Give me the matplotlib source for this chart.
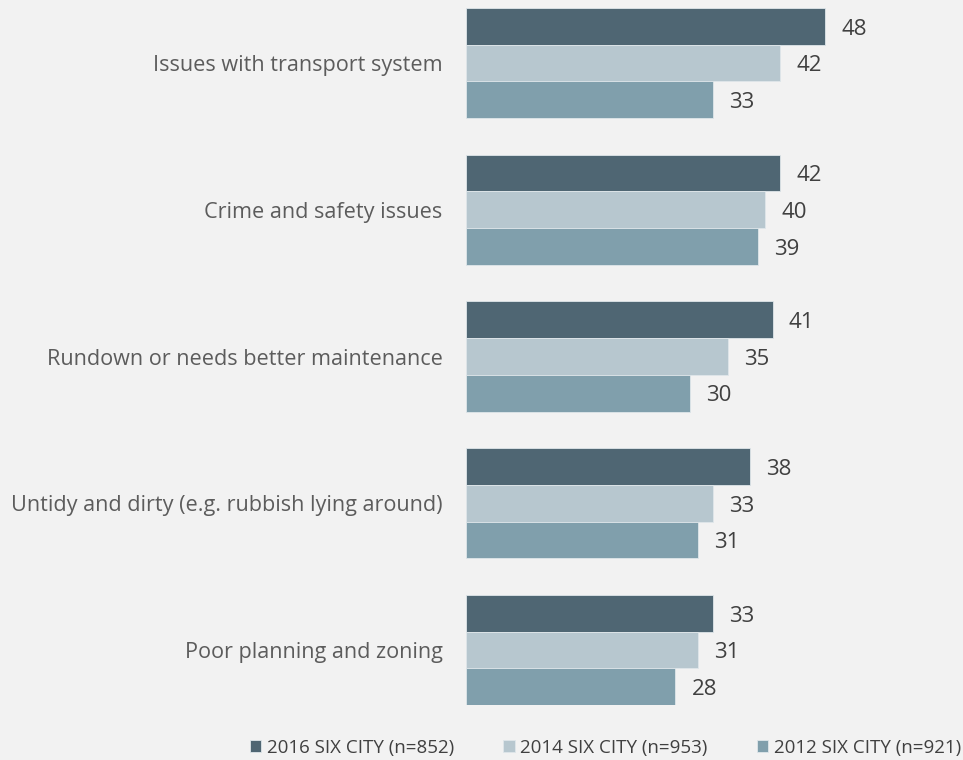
# Top neighbourhood problems by survey year, grouped horizontal bars.
import matplotlib
matplotlib.use('Agg')
import matplotlib.pyplot as plt
import numpy as np

categories = [
    'Issues with transport system',
    'Crime and safety issues',
    'Rundown or needs better maintenance',
    'Untidy and dirty (e.g. rubbish lying around)',
    'Poor planning and zoning',
]
series_names = ['2016 SIX CITY (n=852)', '2014 SIX CITY (n=953)', '2012 SIX CITY (n=921)']
values_2016 = [48, 42, 41, 38, 33]
values_2014 = [42, 40, 35, 33, 31]
values_2012 = [33, 39, 30, 31, 28]
colors = ['#4f6673', '#b7c7cf', '#809fac']

bg = '#f2f2f2'
plt.rcParams['font.family'] = ['Open Sans', 'DejaVu Sans']

fig = plt.figure(figsize=(9.63, 7.60), dpi=100, facecolor=bg)
ax = fig.add_axes([466 / 963, 55 / 760, 448.8 / 963, 697 / 760])
ax.set_facecolor(bg)

centers = np.arange(len(categories)) * 4
all_series = [values_2016, values_2014, values_2012]
for i, (vals, name, col) in enumerate(zip(all_series, series_names, colors)):
    ys = centers + (i - 1)
    ax.barh(ys, vals, height=1.0, color=col, edgecolor='#dfe6ea',
            linewidth=0.6, label=name)
    for y, v in zip(ys, vals):
        ax.annotate(str(v), (v, y), xytext=(11.5, -2), textcoords='offset points',
                    ha='left', va='center', fontsize=16, color='#404040')

ax.set_xlim(0, 60)
ax.set_ylim(17.5, -1.5)
ax.set_yticks(centers)
ax.set_yticklabels(categories, fontsize=15.6, color='#5c5c5c')
ax.tick_params(axis='y', length=0, pad=17)
ax.set_xticks([])
for s in ax.spines.values():
    s.set_visible(False)

handles, labels = ax.get_legend_handles_labels()
fig.legend(handles, labels, loc='center right', bbox_to_anchor=(978 / 963, 12 / 760),
           ncol=3, frameon=False, labelcolor='#404040',
           handlelength=0.6, handleheight=0.6, handletextpad=0.32,
           columnspacing=2.6, prop={'size': 13.5})

fig.savefig('out.png', dpi=100, facecolor=bg)
